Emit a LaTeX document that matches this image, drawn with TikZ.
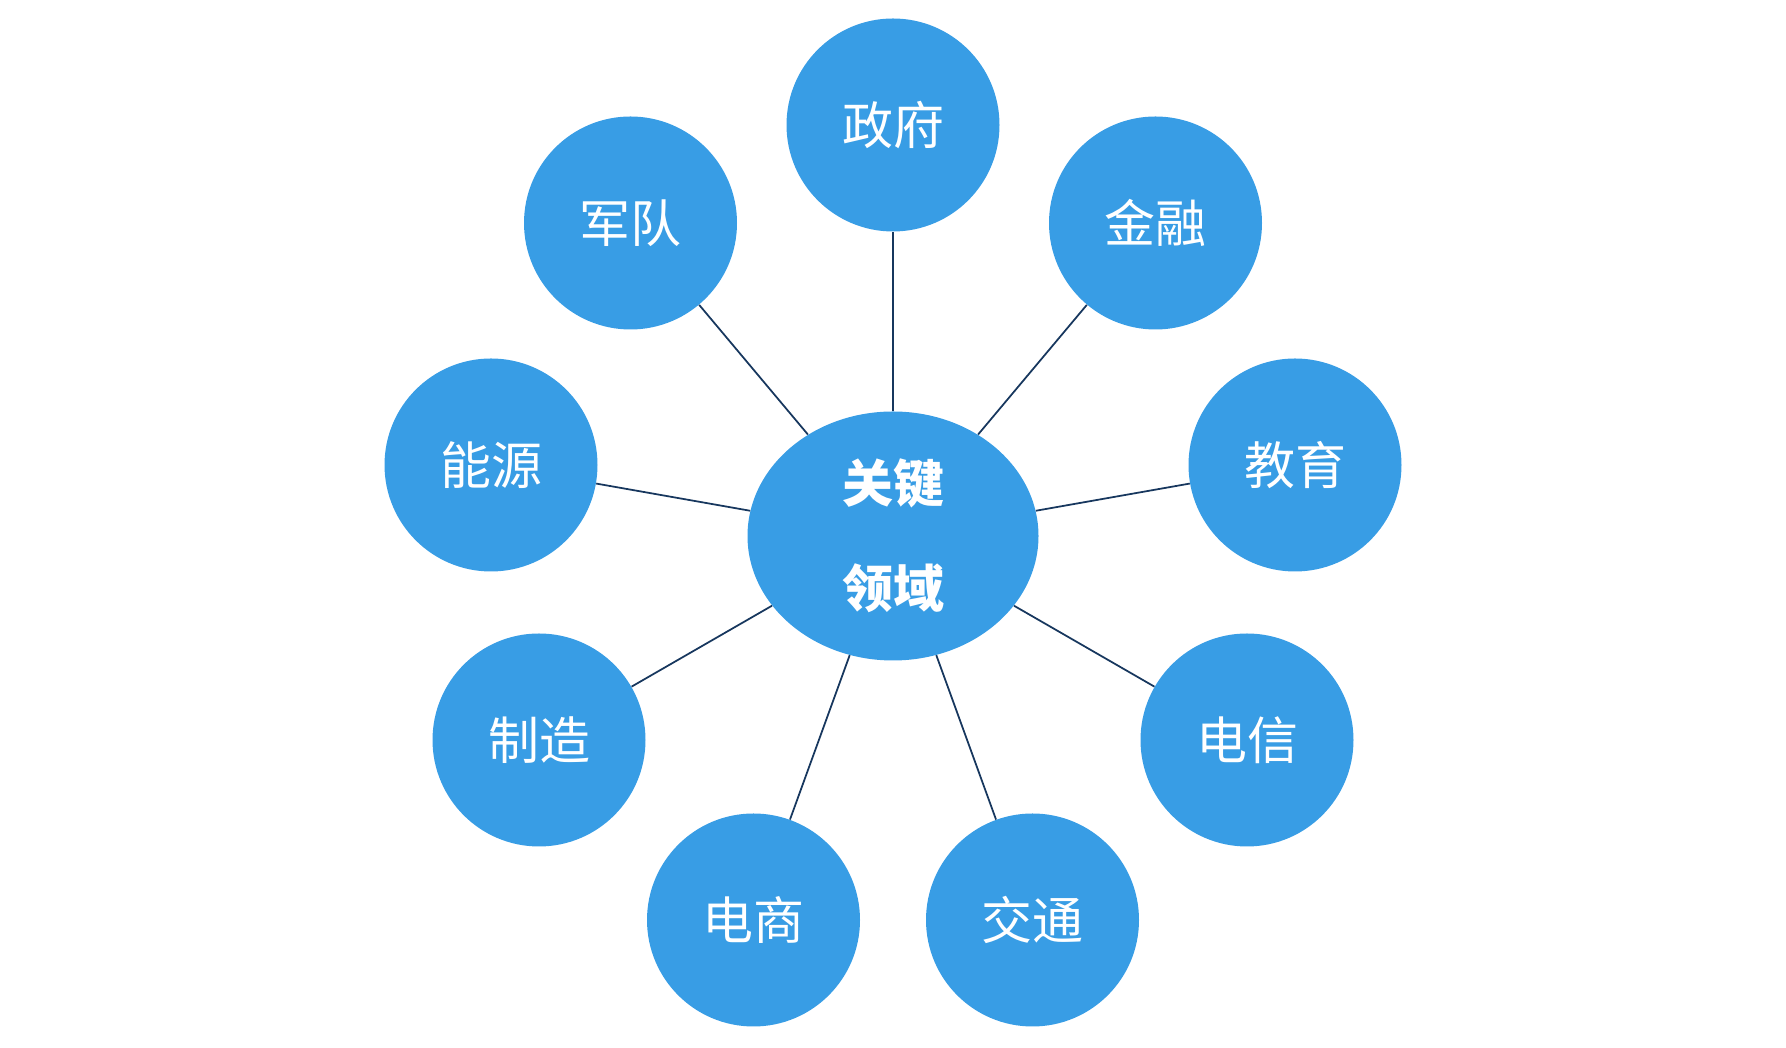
\documentclass[tikz,border=0pt]{standalone}
\usepackage{fontspec}
\usetikzlibrary{shapes.geometric}
\newfontfamily\cjk{Noto Sans CJK SC}
\definecolor{azul}{HTML}{389DE5}
\definecolor{marino}{HTML}{17375E}
\begin{document}
\begin{tikzpicture}

	\tikzstyle{circulo}=[circle, fill=azul, text=white, minimum size=4.26cm, inner sep=0pt, font=\cjk\fontsize{29}{34}\selectfont]
	\tikzstyle{centro}=[ellipse, fill=azul, text=white, minimum width=5.82cm, minimum height=4.98cm, inner sep=0pt, align=center, font=\cjk\bfseries\fontsize{29}{60}\selectfont]
	\tikzstyle{linea}=[marino, line width=1pt]

	\useasboundingbox (0, 0) rectangle (35.72, 20.96);

	\coordinate (f_0) at (17.86, 10.24); % CENTRO
	\coordinate (f_1) at (17.86, 18.46); % ARRIBA
	\coordinate (f_2) at (12.61, 16.50);
	\coordinate (f_3) at (23.11, 16.50);
	\coordinate (f_4) at (9.82, 11.66);
	\coordinate (f_5) at (25.90, 11.66);
	\coordinate (f_6) at (10.78, 6.16);
	\coordinate (f_7) at (24.94, 6.16);
	\coordinate (f_8) at (15.07, 2.56); % ABAJO
	\coordinate (f_9) at (20.65, 2.56); % ABAJO

	\node[centro] (f_0) at (f_0) {关键\\领域}; % CENTRO
	\node[circulo] (f_1) at (f_1) {政府};
	\node[circulo] (f_2) at (f_2) {军队};
	\node[circulo] (f_3) at (f_3) {金融};
	\node[circulo] (f_4) at (f_4) {能源};
	\node[circulo] (f_5) at (f_5) {教育};
	\node[circulo] (f_6) at (f_6) {制造};
	\node[circulo] (f_7) at (f_7) {电信};
	\node[circulo] (f_8) at (f_8) {电商};
	\node[circulo] (f_9) at (f_9) {交通};

	%%%%%%%% LINEAS %%%%%%%%
	\foreach \i in {1,...,9}
		\draw[linea] (f_0) -- (f_\i);

\end{tikzpicture}
\end{document}
